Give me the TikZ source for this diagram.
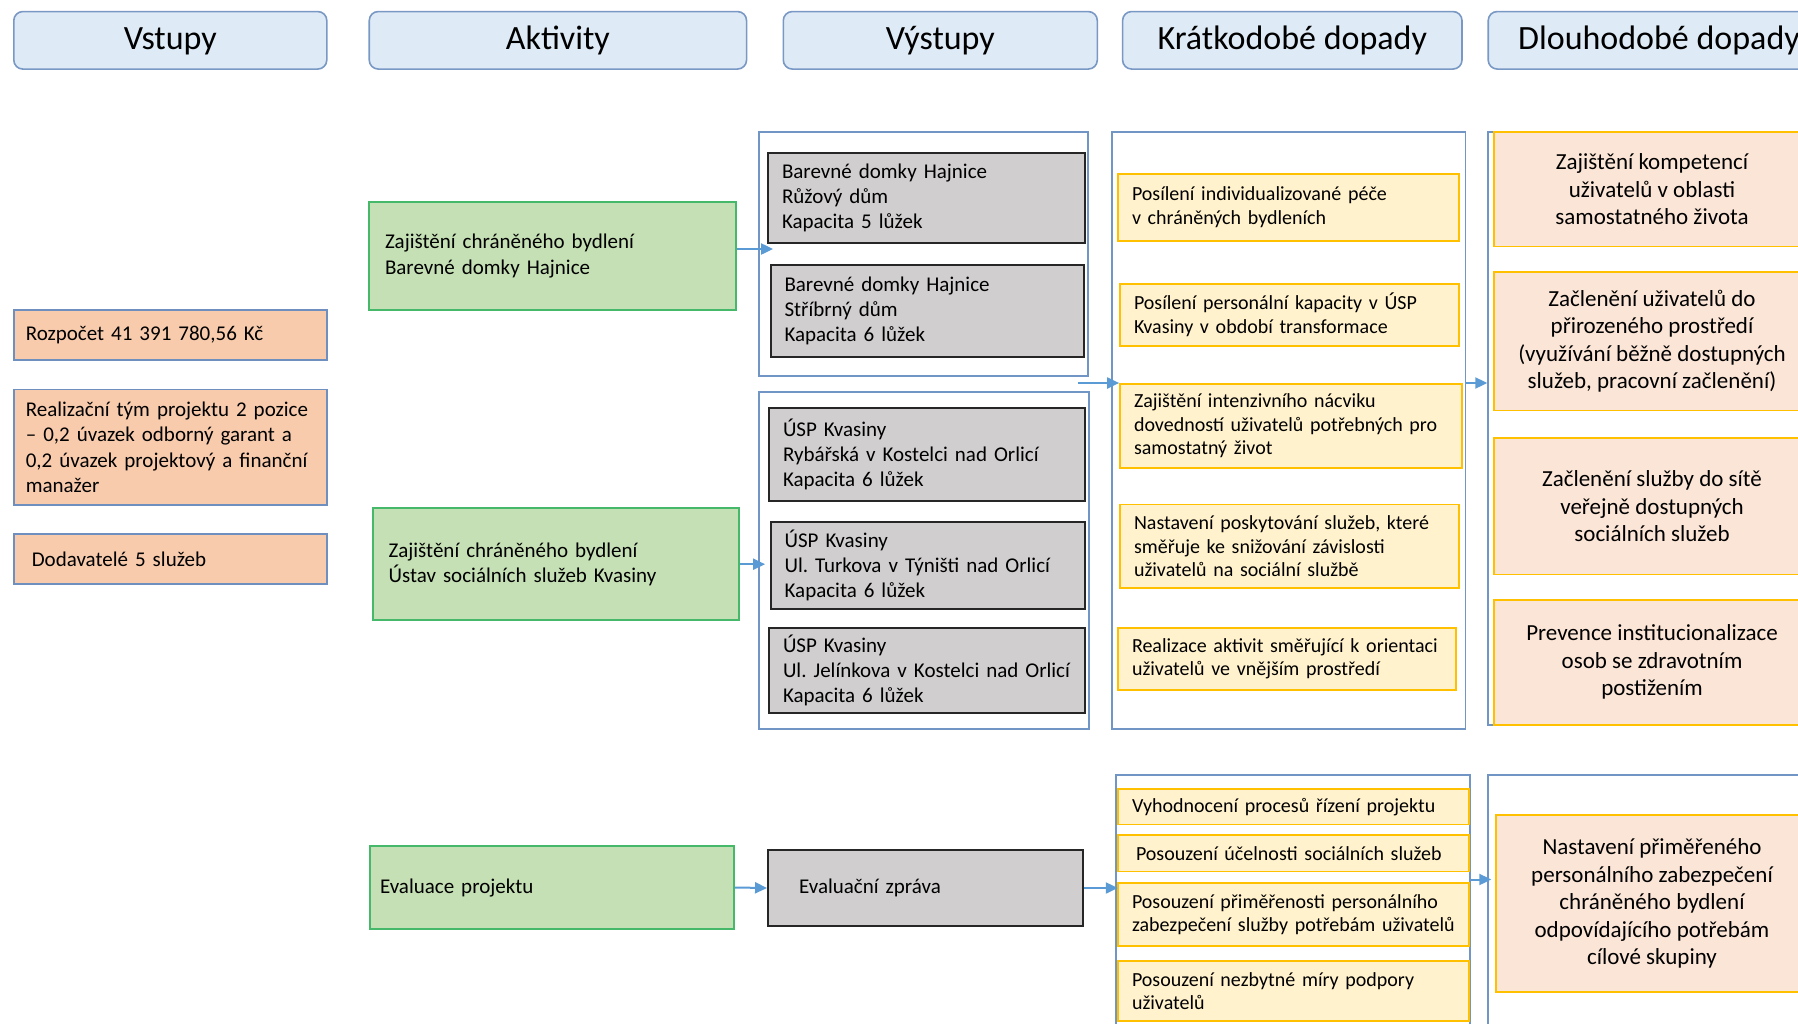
\documentclass[tikz,border=0pt]{standalone}
\usepackage{fontspec}
\setmainfont{Carlito}
\usetikzlibrary{arrows.meta}

\definecolor{hlavafill}{HTML}{DEEBF7}
\definecolor{hlavaline}{HTML}{7A98C4}
\definecolor{vstupfill}{HTML}{F8CBAD}
\definecolor{vstupline}{HTML}{6F8FBF}
\definecolor{aktfill}{HTML}{C5E0B4}
\definecolor{aktline}{HTML}{45B86A}
\definecolor{vysfill}{HTML}{D0CECE}
\definecolor{vysline}{HTML}{262626}
\definecolor{ramline}{HTML}{7195C5}
\definecolor{krafill}{HTML}{FFF2CC}
\definecolor{kraline}{HTML}{FFC000}
\definecolor{dlofill}{HTML}{FBE5D6}
\definecolor{sipline}{HTML}{5B9BD5}

\begin{document}
\frenchspacing
\begin{tikzpicture}[x=1pt,y=-1pt,
    hlava/.style={draw=hlavaline,fill=hlavafill,line width=1.6pt,rounded corners=9pt,
        minimum height=57.5pt,text height=26pt,text depth=8pt,font=\fontsize{34}{40}\selectfont},
    vstup/.style={draw=vstupline,fill=vstupfill,line width=1.8pt,align=left,
        inner xsep=12pt,text width=289pt,font=\fontsize{21}{25.6}\selectfont},
    aktivita/.style={draw=aktline,fill=aktfill,line width=1.8pt,align=left,
        inner xsep=16pt,font=\fontsize{21}{25.2}\selectfont},
    vystup/.style={draw=vysline,fill=vysfill,line width=2pt,align=left,
        inner xsep=14pt,font=\fontsize{21}{25.3}\selectfont},
    ramec/.style={draw=ramline,line width=1.8pt},
    kratky/.style={draw=kraline,fill=krafill,line width=1.8pt,align=left,
        inner xsep=14pt,font=\fontsize{20}{23.5}\selectfont},
    dlouhy/.style={draw=kraline,fill=dlofill,line width=1.8pt,align=center,
        minimum width=316pt,font=\fontsize{23}{27.5}\selectfont},
    sipka/.style={draw=sipline,line width=2pt,-{Triangle[length=12pt,width=11pt]}}
]
\useasboundingbox (0,0) rectangle (1798,1023);
\clip (0,0) rectangle (1798,1023);

\node[hlava,minimum width=313pt] (vstupy) at (170.3,40.3) {Vstupy};
\node[hlava,minimum width=377.3pt] (aktivity) at (557.9,40.3) {Aktivity};
\node[hlava,minimum width=314pt] (vysledky) at (940.3,40.3) {Výstupy};
\node[hlava,minimum width=339.4pt] (kratkodobe) at (1292.3,40.3) {Krátkodobé dopady};
\node[hlava,minimum width=341.6pt] (dlouhodobe) at (1659,40.3) {Dlouhodobé dopady};

\node[vstup,minimum height=50pt] (rozpocet) at (170.3,335) {Rozpočet 41 391 780,56 Kč};
\node[vstup,minimum height=115.5pt] (tym) at (170.3,447.3) {Realizační tým projektu 2 pozice\\– 0,2 úvazek odborný garant a\\0,2 úvazek projektový a finanční\\manažer};
\node[vstup,minimum height=50pt] (dodavatele) at (170.3,559) {\hspace*{6pt}Dodavatelé 5 služeb};

\node[aktivita,text width=335pt,minimum height=108pt] (bydleni1) at (552.5,256) {Zajištění chráněného bydlení\\Barevné domky Hajnice};
\node[aktivita,text width=334pt,minimum height=112pt] (bydleni2) at (555.6,564.2) {Zajištění chráněného bydlení\\Ústav sociálních služeb Kvasiny};
\node[aktivita,inner xsep=10pt,text width=344pt,minimum height=83pt] (evaluace) at (552,887.5) {Evaluace projektu};

\node[ramec,minimum width=329pt,minimum height=244pt] (vystupy1) at (923.5,254) {};
\node[ramec,minimum width=330pt,minimum height=337pt] (vystupy2) at (924,560.5) {};
\node[ramec,minimum width=353.5pt,minimum height=597pt] (kratke1) at (1288.8,430.5) {};
\node[ramec,minimum width=354.3pt,minimum height=255pt] (kratke2) at (1292.9,902.5) {};
\node[ramec,minimum width=341.6pt,minimum height=592.7pt] (dlouhe1) at (1659,428.4) {};
\node[ramec,minimum width=341.6pt,minimum height=265pt] (dlouhe2) at (1659,907.5) {};

\node[vystup,text width=289pt,minimum height=90.5pt] (ruzovy) at (926.5,197.8) {Barevné domky Hajnice\\Růžový dům\\Kapacita 5 lůžek};
\node[vystup,text width=285pt,minimum height=91.6pt] (stribrny) at (927,310.8) {Barevné domky Hajnice\\Stříbrný dům\\Kapacita 6 lůžek};
\node[vystup,text width=288pt,minimum height=93pt] (rybarska) at (927,454.5) {ÚSP Kvasiny\\Rybářská v Kostelci nad Orlicí\\Kapacita 6 lůžek};
\node[vystup,text width=286.4pt,minimum height=87.3pt] (turkova) at (927.8,565.3) {ÚSP Kvasiny\\Ul. Turkova v Týništi nad Orlicí\\Kapacita 6 lůžek};
\node[vystup,text width=288pt,minimum height=85pt] (jelinkova) at (927,670.5) {ÚSP Kvasiny\\\mbox{Ul. Jelínkova v Kostelci nad Orlicí}\\Kapacita 6 lůžek};
\node[vystup,text width=286.5pt,minimum height=76.8pt] (zprava) at (925.3,888) {\hspace*{17pt}Evaluační zpráva};

\node[kratky,text width=312.6pt,minimum height=66.8pt] (pece) at (1288.3,207.4) {Posílení individualizované péče\\v chráněných bydleních};
\node[kratky,text width=310.6pt,minimum height=62pt] (kapacita) at (1289.3,315) {Posílení personální kapacity v ÚSP\\Kvasiny v období transformace};
\node[kratky,text width=314pt,minimum height=84pt] (nacvik) at (1291,426) {Zajištění intenzivního nácviku\\dovedností uživatelů potřebných pro\\samostatný život};
\node[kratky,text width=310.6pt,minimum height=83.5pt] (zavislost) at (1289.3,546.3) {Nastavení poskytování služeb, které\\směřuje ke snižování závislosti\\uživatelů na sociální službě};
\node[kratky,text width=310pt,minimum height=62pt] (orientace) at (1287,659) {Realizace aktivit směřující k orientaci\\uživatelů ve vnějším prostředí};
\node[kratky,text width=323pt,minimum height=35.5pt] (procesy) at (1293.5,806.8) {Vyhodnocení procesů řízení projektu};
\node[kratky,text width=323pt,minimum height=36.7pt] (ucelnost) at (1293.5,853.2) {\hspace*{4pt}Posouzení účelnosti sociálních služeb};
\node[kratky,text width=323pt,minimum height=63pt] (primerenost) at (1293.5,914.5) {Posouzení přiměřenosti personálního\\zabezpečení služby potřebám uživatelů};
\node[kratky,text width=323pt,minimum height=60pt] (podpora) at (1293.5,991) {Posouzení nezbytné míry podpory\\uživatelů};

\node[dlouhy,minimum height=114.5pt] (kompetence) at (1652,189.3) {Zajištění kompetencí\\uživatelů v oblasti\\samostatného života};
\node[dlouhy,minimum height=138.7pt] (zacleneni) at (1652,341.2) {Začlenění uživatelů do\\přirozeného prostředí\\(využívání běžně dostupných\\služeb, pracovní začlenění)};
\node[dlouhy,minimum height=136.5pt] (sit) at (1652,506.3) {Začlenění služby do sítě\\veřejně dostupných\\sociálních služeb};
\node[dlouhy,minimum height=125pt] (prevence) at (1652,662.2) {Prevence institucionalizace\\osob se zdravotním\\postižením};
\node[dlouhy,minimum width=311.5pt,minimum height=177pt] (personal) at (1652,903.5) {Nastavení přiměřeného\\personálního zabezpečení\\chráněného bydlení\\odpovídajícího potřebám\\cílové skupiny};

\coordinate (vystupyout) at (1078,383);
\draw[sipka,shorten >=-15pt] ([yshift=7pt]bydleni1.east) -- ([yshift=7pt]bydleni1.east -| vystupy1.west);
\draw[sipka,shorten >=-7pt] (bydleni2.east) -- (bydleni2.east -| vystupy2.west);
\draw[sipka] (evaluace.east) -- (zprava.west);
\draw[sipka,shorten >=-8pt] (vystupyout) -- (vystupyout -| kratke1.west);
\draw[sipka] (vystupyout -| kratke1.east) -- (vystupyout -| dlouhe1.west);
\draw[sipka,shorten >=-3pt] (zprava.east) -- (zprava.east -| kratke2.west);
\draw[sipka,shorten >=-4pt] ([yshift=23pt]kratke2.east) -- ([yshift=23pt]kratke2.east -| dlouhe2.west);
\end{tikzpicture}
\end{document}
